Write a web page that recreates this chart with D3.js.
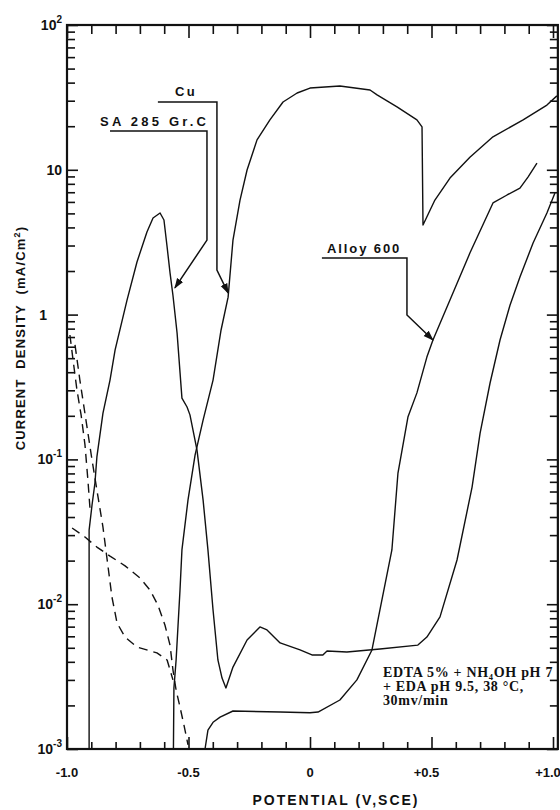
<!DOCTYPE html>
<html>
<head>
<meta charset="utf-8">
<script src="https://cdn.jsdelivr.net/npm/d3@7"></script>
<style>
body { margin: 0; background: #fff; }
svg { display: block; }
.lbl { font-family: "Liberation Sans", Arial, sans-serif; font-weight: bold; fill: #111; }
.note { font-family: "Liberation Serif", "Times New Roman", serif; font-weight: bold; fill: #111; }
</style>
</head>
<body>
<div id="chart"></div>
<script>

//----- Daten (Potential in V/SCE, Stromdichte in mA/cm2) ------------------------------------------//

var cuE = [-0.562, -0.560, -0.551, -0.535, -0.527, -0.502, -0.473, -0.440, -0.399, -0.366, -0.337, -0.317, -0.288, -0.259, -0.218, -0.165, -0.111, -0.053, 0.000, 0.123, 0.247, 0.276, 0.358, 0.440, 0.461, 0.465, 0.514, 0.576, 0.658, 0.753, 0.877, 0.975, 1.016];
var cuI = [0.001, 0.00264, 0.00412, 0.0125, 0.0237, 0.0525, 0.107, 0.187, 0.353, 0.783, 1.32, 3.27, 6.18, 9.97, 16.1, 22.1, 29.4, 33.9, 36.7, 37.9, 35.6, 32.9, 27.2, 22.1, 19.8, 4.16, 6.18, 8.77, 12.2, 16.9, 22.1, 28.0, 32.4];

var saE = [-0.909, -0.909, -0.897, -0.885, -0.877, -0.852, -0.823, -0.802, -0.753, -0.712, -0.671, -0.646, -0.617, -0.601, -0.588, -0.576, -0.564, -0.547, -0.527, -0.506, -0.494, -0.465, -0.440, -0.420, -0.399, -0.379, -0.362, -0.346, -0.317, -0.259, -0.206, -0.177, -0.123, -0.041, 0.008, 0.053, 0.070, 0.152, 0.288, 0.444, 0.481, 0.535, 0.605, 0.667, 0.700, 0.741, 0.782, 0.823, 0.864, 0.918, 0.975, 1.008];
var saI = [0.001, 0.0325, 0.0484, 0.0687, 0.104, 0.209, 0.353, 0.570, 1.26, 2.31, 3.72, 4.65, 5.03, 4.50, 2.93, 1.94, 1.36, 0.746, 0.265, 0.230, 0.203, 0.116, 0.0525, 0.0237, 0.00912, 0.00412, 0.00309, 0.00264, 0.00368, 0.00566, 0.00697, 0.00664, 0.00540, 0.00483, 0.00446, 0.00446, 0.00475, 0.00468, 0.00491, 0.00522, 0.00593, 0.00817, 0.0202, 0.0644, 0.152, 0.337, 0.668, 1.16, 1.82, 3.12, 5.03, 6.92];

var alloyE = [-0.432, -0.420, -0.399, -0.370, -0.317, -0.123, 0.000, 0.033, 0.123, 0.193, 0.255, 0.337, 0.362, 0.403, 0.440, 0.481, 0.506, 0.576, 0.658, 0.753, 0.811, 0.864, 0.897, 0.934];
var alloyI = [0.001, 0.00135, 0.00153, 0.00166, 0.00183, 0.00180, 0.00178, 0.00180, 0.00218, 0.00300, 0.00483, 0.0237, 0.0805, 0.196, 0.288, 0.509, 0.668, 1.26, 2.66, 5.90, 6.70, 7.48, 8.91, 11.1];

// kathodische Äste (gestrichelt)
var cath1E = [-0.988, -0.975, -0.959, -0.942, -0.926, -0.914, -0.905];
var cath1I = [0.723, 0.485, 0.301, 0.203, 0.126, 0.0721, 0.0448];

var cath2E = [-0.967, -0.947, -0.922, -0.897, -0.877, -0.852, -0.831, -0.815, -0.794, -0.761, -0.712, -0.630, -0.588, -0.564];
var cath2I = [0.617, 0.353, 0.187, 0.0991, 0.0615, 0.0341, 0.0181, 0.0112, 0.00741, 0.00593, 0.00506, 0.00461, 0.00412, 0.00300];

var cath3E = [-0.979, -0.926, -0.877, -0.823, -0.761, -0.700, -0.658, -0.626, -0.597, -0.576, -0.564, -0.551, -0.535, -0.519, -0.502];
var cath3I = [0.0336, 0.0291, 0.0248, 0.0215, 0.0184, 0.0152, 0.0125, 0.00986, 0.00718, 0.00522, 0.00352, 0.00255, 0.00195, 0.00147, 0.00107];

var xTickValues = [-1.0, -0.5, 0, 0.5, 1.0];
var xTickLabels = ['-1.0', '-0.5', '0', '+0.5', '+1.0'];
var yDecades = [1e-3, 1e-2, 1e-1, 1, 10, 100];
var yDecBase = ['10', '10', '10', '1', '10', '10'];
var yDecExp = ['-3', '-2', '-1', '', '', '2'];

var noteLines = ['EDTA 5% + NH\u2084OH pH 7', '+ EDA pH 9.5, 38 \u00B0C,', '30mv/min'];


//----- Skalen ------------------------------------------------------------------------------------------//

var width = 560, height = 810;

var x = d3.scaleLinear().domain([-1, 1]).range([67, 553]);
var y = d3.scaleLog().domain([1e-3, 1e2]).range([749, 25]);

var xLeft = x(-1), xRight = x(1.02), yTop = y(100), yBottom = y(0.001);

var svg = d3.select('#chart').append('svg')
    .attr('width', width)
    .attr('height', height);

svg.append('defs').append('marker')
    .attr('id', 'arrow')
    .attr('viewBox', '0 0 10 10')
    .attr('refX', 9)
    .attr('refY', 5)
    .attr('markerWidth', 7)
    .attr('markerHeight', 7)
    .attr('orient', 'auto')
    .append('path')
    .attr('d', 'M0,1.5 L10,5 L0,8.5 z')
    .attr('fill', '#111');


//----- Achsen / Rahmen ---------------------------------------------------------------------------------//

function tickAxis(axis, values, size, tx, ty) {
    var g = svg.append('g')
        .attr('transform', 'translate(' + tx + ',' + ty + ')')
        .call(axis.tickValues(values).tickSize(size).tickFormat(''));
    g.select('.domain').remove();
    g.selectAll('line').attr('stroke', '#111').attr('stroke-width', 1.6);
}

var xMinor = d3.range(-10, 11).map(function (k) { return k / 10; })
    .filter(function (v) { return Math.abs(v * 2 - Math.round(v * 2)) > 1e-6; });
var yMinor = y.ticks().filter(function (v) { return yDecades.indexOf(v) < 0; });

tickAxis(d3.axisTop(x), xMinor, 7, 0, yBottom);
tickAxis(d3.axisTop(x), xTickValues, 12, 0, yBottom);
tickAxis(d3.axisBottom(x), xMinor, 9, 0, yTop);
tickAxis(d3.axisBottom(x), xTickValues, 13, 0, yTop);
tickAxis(d3.axisRight(y), yMinor, 8, xLeft, 0);
tickAxis(d3.axisRight(y), yDecades, 11, xLeft, 0);
tickAxis(d3.axisLeft(y), yMinor, 8, xRight, 0);
tickAxis(d3.axisLeft(y), yDecades, 11, xRight, 0);

svg.append('rect')
    .attr('x', xLeft)
    .attr('y', yTop)
    .attr('width', xRight - xLeft)
    .attr('height', yBottom - yTop)
    .attr('fill', 'none')
    .attr('stroke', '#111')
    .attr('stroke-width', 2.2);

// x-Beschriftung
svg.append('g').selectAll('text')
    .data(xTickValues)
    .enter().append('text')
    .attr('class', 'lbl')
    .attr('x', function (d) { return x(d) - (d > 0 ? 5 : 0); })
    .attr('y', 777)
    .attr('text-anchor', 'middle')
    .style('font-size', '13px')
    .text(function (d, i) { return xTickLabels[i]; });

// y-Beschriftung mit Exponent
var yLab = svg.append('g').selectAll('text')
    .data(yDecades)
    .enter().append('text')
    .attr('class', 'lbl')
    .attr('x', function (d, i) { return yDecBase[i] === '1' ? 47 : 62; })
    .attr('y', function (d) { return y(d) + 5; })
    .attr('text-anchor', 'end')
    .style('font-size', '14px');

yLab.append('tspan').text(function (d, i) { return yDecBase[i]; });
yLab.append('tspan')
    .attr('dy', -7)
    .style('font-size', '10px')
    .text(function (d, i) { return yDecExp[i]; });

svg.append('text')
    .attr('class', 'lbl')
    .attr('transform', 'translate(25,338) rotate(-90)')
    .attr('text-anchor', 'middle')
    .style('font-size', '13px')
    .style('letter-spacing', '1.2px')
    .html('CURRENT&#160; DENSITY&#160; (mA/Cm<tspan dy="-5" style="font-size:9px">2</tspan><tspan dy="5">)</tspan>');

svg.append('text')
    .attr('class', 'lbl')
    .attr('x', 336)
    .attr('y', 805)
    .attr('text-anchor', 'middle')
    .style('font-size', '14px')
    .style('letter-spacing', '2px')
    .text('POTENTIAL (V,SCE)');


//----- Kurven ---------------------------------------------------------------------------------------//

var line = d3.line()
    .x(function (d) { return x(d[0]); })
    .y(function (d) { return y(d[1]); });

function drawCurve(_e, _i, _dash) {
    svg.append('path')
        .datum(d3.zip(_e, _i))
        .attr('d', line)
        .attr('fill', 'none')
        .attr('stroke', '#111')
        .attr('stroke-width', 1.4)
        .attr('stroke-linejoin', 'round')
        .attr('stroke-dasharray', _dash ? '9,6' : null);
}

drawCurve(cuE, cuI, false);
drawCurve(saE, saI, false);
drawCurve(alloyE, alloyI, false);
drawCurve(cath1E, cath1I, true);
drawCurve(cath2E, cath2I, true);
drawCurve(cath3E, cath3I, true);


//----- Beschriftungen mit Pfeilen ---------------------------------------------------------------------//

function callout(_text, _tx, _ti, _spacing, _pts) {
    svg.append('text')
        .attr('class', 'lbl')
        .attr('x', x(_tx))
        .attr('y', y(_ti))
        .style('font-size', '13px')
        .style('letter-spacing', _spacing + 'px')
        .text(_text);

    svg.append('path')
        .datum(_pts)
        .attr('d', line)
        .attr('fill', 'none')
        .attr('stroke', '#111')
        .attr('stroke-width', 1.5)
        .attr('marker-end', 'url(#arrow)');
}

callout('Cu', -0.556, 32.4, 2.5, [[-0.626, 29.4], [-0.383, 29.4], [-0.383, 2.03], [-0.337, 1.41]]);
callout('SA 285 Gr.C', -0.864, 20.0, 3.2, [[-0.823, 18.5], [-0.424, 18.5], [-0.424, 3.27], [-0.556, 1.53]]);
callout('Alloy 600', 0.070, 2.66, 1.9, [[0.049, 2.46], [0.399, 2.46], [0.399, 0.993], [0.506, 0.668]]);

svg.append('g').selectAll('text')
    .data(noteLines)
    .enter().append('text')
    .attr('class', 'note')
    .attr('x', x(0.300))
    .attr('y', function (d, i) { return y(0.00314) + i * 14; })
    .style('font-size', '14px')
    .style('letter-spacing', '0.7px')
    .text(function (d) { return d; });

</script>
</body>
</html>
